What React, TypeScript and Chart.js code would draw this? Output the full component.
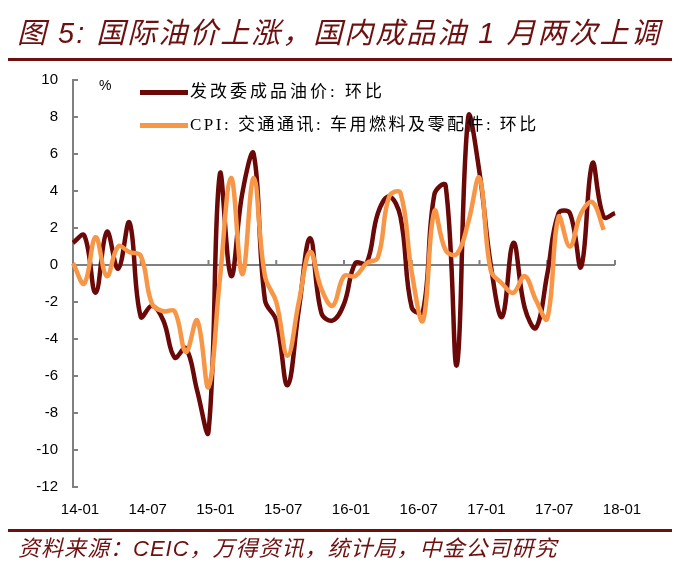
import React, { useEffect, useRef } from "react";
import { Chart, registerables } from "chart.js";

Chart.register(...registerables);

const months: string[] = [];
for (let y = 14; y <= 18; y++) {
  for (let m = 1; m <= 12; m++) {
    if (y === 18 && m > 1) break;
    months.push(`${y}-${m < 10 ? "0" + m : m}`);
  }
}

const ndrcOil: number[] = [
  1.2, 1.6, -1.5, 1.8, -0.2, 2.3, -2.8, -2.2, -3.0, -5.0, -4.5, -6.8,
  -9.0, 4.9, -0.6, 3.9, 6.0, -1.9, -3.0, -6.5, -2.4, 1.45, -2.6, -3.0,
  -2.1, 0.1, 0.1, 2.8, 3.7, 2.6, -2.3, -2.5, 3.8, 4.3, -5.4, 8.0,
  5.0, 0.0, -2.8, 1.2, -2.3, -3.4, -0.5, 2.8, 2.8, -0.1, 5.5, 2.6,
  2.8,
];

const cpiFuel: (number | null)[] = [
  0.1, -1.0, 1.5, -0.6, 1.0, 0.7, 0.5, -2.1, -2.5, -2.5, -4.7, -3.0,
  -6.6, -0.8, 4.7, -0.5, 4.7, -0.6, -2.0, -4.9, -2.0, 0.7, -1.3, -2.2,
  -0.6, -0.6, 0.1, 0.4, 3.7, 3.9, -0.4, -3.0, 2.9, 0.8, 0.6, 2.3,
  4.7, -0.3, -1.0, -1.5, -0.6, -1.9, -2.9, 2.6, 1.0, 2.8, 3.4, 1.9,
  null,
];

const seriesNames = ["发改委成品油价: 环比", "CPI: 交通通讯: 车用燃料及零配件: 环比"];
const titleText = "图 5: 国际油价上涨，国内成品油 1 月两次上调";
const sourceText = "资料来源：CEIC，万得资讯，统计局，中金公司研究";

const DARK = "#6B0808";
const ORANGE = "#F79646";
const AXIS = "#808080";
const RED = "#6E1010";

const tickPlugin = {
  id: "innerTicks",
  beforeDatasetsDraw(chart: any) {
    const { ctx, chartArea, scales } = chart;
    const xs = scales.x;
    const ys = scales.y;
    ctx.save();
    ctx.strokeStyle = AXIS;
    ctx.lineWidth = 2;
    ys.ticks.forEach((t: any) => {
      const py = ys.getPixelForValue(t.value);
      ctx.beginPath();
      ctx.moveTo(chartArea.left, py);
      ctx.lineTo(chartArea.left + 5, py);
      ctx.stroke();
    });
    const y0 = ys.getPixelForValue(0);
    months.forEach((_, i) => {
      if (i % 6 !== 0) return;
      const px = xs.getPixelForValue(i);
      ctx.beginPath();
      ctx.moveTo(px, y0);
      ctx.lineTo(px, y0 - 5);
      ctx.stroke();
    });
    ctx.restore();
  },
};

export default function App() {
  const ref = useRef<HTMLCanvasElement>(null);

  useEffect(() => {
    if (!ref.current) return;
    const chart = new Chart(ref.current, {
      type: "line",
      data: {
        labels: months,
        datasets: [
          {
            label: seriesNames[0],
            data: ndrcOil,
            borderColor: DARK,
            backgroundColor: DARK,
            borderWidth: 4.5,
            pointRadius: 0,
            tension: 0.4,
            order: 1,
          },
          {
            label: seriesNames[1],
            data: cpiFuel,
            borderColor: ORANGE,
            backgroundColor: ORANGE,
            borderWidth: 4.5,
            pointRadius: 0,
            tension: 0.4,
            order: 0,
          },
        ],
      },
      options: {
        animation: false,
        responsive: false,
        devicePixelRatio: 1,
        layout: { padding: { left: 13, right: 66, top: 80, bottom: 51 } },
        plugins: { legend: { display: false }, tooltip: { enabled: false } },
        scales: {
          x: {
            type: "category",
            offset: false,
            grid: { display: false },
            border: { display: false },
            ticks: {
              autoSkip: false,
              maxRotation: 0,
              minRotation: 0,
              padding: 6,
              labelOffset: 7,
              color: "#000",
              font: { family: "'Liberation Sans', Arial, sans-serif", size: 15 },
              callback: (_v: any, i: number) => (i % 6 === 0 ? months[i] : ""),
            },
            afterFit: (s: any) => {
              s.height = 30;
            },
          },
          y: {
            min: -12,
            max: 10,
            ticks: {
              stepSize: 2,
              padding: 15,
              color: "#000",
              font: { family: "'Liberation Sans', Arial, sans-serif", size: 15 },
            },
            grid: {
              drawTicks: false,
              lineWidth: 2,
              color: (c: any) => (c.tick && c.tick.value === 0 ? AXIS : "rgba(0,0,0,0)"),
            },
            border: { display: true, color: AXIS, width: 2 },
            afterFit: (s: any) => {
              s.width = 60;
            },
          },
        },
      },
      plugins: [tickPlugin],
    });
    return () => chart.destroy();
  }, []);

  const legendFont = "'Liberation Serif', 'Noto Sans CJK SC', serif";

  return (
    <div
      style={{
        position: "absolute",
        left: 0,
        top: 0,
        width: 681,
        height: 568,
        background: "#fff",
        overflow: "hidden",
      }}
    >
      <canvas
        ref={ref}
        width={681}
        height={568}
        style={{ position: "absolute", left: 0, top: 0, width: 681, height: 568 }}
      />
      <div
        style={{
          position: "absolute",
          left: 17,
          top: 14,
          lineHeight: "38px",
          fontSize: 29,
          fontStyle: "italic",
          letterSpacing: 2,
          color: RED,
          fontFamily: "'Liberation Sans', 'Noto Sans CJK SC', sans-serif",
          whiteSpace: "nowrap",
        }}
      >
        {titleText}
      </div>
      <div style={{ position: "absolute", left: 8, top: 58, width: 664, height: 3, background: RED }} />
      <div
        style={{
          position: "absolute",
          left: 99,
          top: 76,
          fontSize: 14,
          lineHeight: "18px",
          fontFamily: "'Liberation Sans', Arial, sans-serif",
          color: "#000",
        }}
      >
        %
      </div>
      <div style={{ position: "absolute", left: 140, top: 90, width: 48, height: 5, background: DARK }} />
      <div
        style={{
          position: "absolute",
          left: 190,
          top: 81,
          fontSize: 17,
          lineHeight: "22px",
          letterSpacing: 3,
          fontFamily: legendFont,
          color: "#000",
          whiteSpace: "nowrap",
        }}
      >
        {seriesNames[0]}
      </div>
      <div style={{ position: "absolute", left: 140, top: 123, width: 48, height: 5, background: ORANGE }} />
      <div
        style={{
          position: "absolute",
          left: 190,
          top: 114,
          fontSize: 17,
          lineHeight: "22px",
          letterSpacing: 2.5,
          fontFamily: legendFont,
          color: "#000",
          whiteSpace: "nowrap",
        }}
      >
        {seriesNames[1]}
      </div>
      <div style={{ position: "absolute", left: 8, top: 529, width: 664, height: 3, background: RED }} />
      <div
        style={{
          position: "absolute",
          left: 18,
          top: 535,
          fontSize: 22,
          lineHeight: "28px",
          fontStyle: "italic",
          letterSpacing: 1.0,
          color: RED,
          fontFamily: "'Liberation Sans', 'Noto Sans CJK SC', sans-serif",
          whiteSpace: "nowrap",
        }}
      >
        {sourceText}
      </div>
    </div>
  );
}
